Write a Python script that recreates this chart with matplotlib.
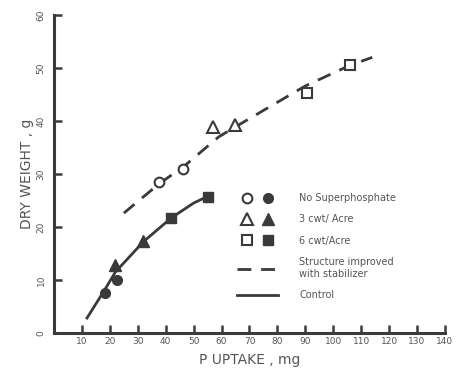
import matplotlib
matplotlib.use("Agg")
import matplotlib.pyplot as plt
from matplotlib.legend_handler import HandlerTuple
from matplotlib.lines import Line2D

# observed points (x = P uptake, mg ; y = dry weight, g)
nosp_open_x = [37.6, 46.2]
nosp_open_y = [28.5, 30.9]
nosp_fill_x = [18.3, 22.6]
nosp_fill_y = [7.5, 10.0]

cwt3_open_x = [57.0, 64.9]
cwt3_open_y = [38.9, 39.2]
cwt3_fill_x = [21.9, 31.9]
cwt3_fill_y = [12.8, 17.4]

cwt6_open_x = [90.7, 106.0]
cwt6_open_y = [45.3, 50.6]
cwt6_fill_x = [41.9, 55.2]
cwt6_fill_y = [21.7, 25.7]

# fitted curves as drawn
stab_x = [25, 38, 46, 59, 66, 77, 90, 106, 114]
stab_y = [22.6, 28.3, 31.2, 37.0, 39.2, 42.6, 46.6, 50.5, 52.0]
ctrl_x = [11.8, 18, 22, 32, 42, 50, 55.2]
ctrl_y = [2.8, 8.0, 11.5, 17.2, 21.7, 24.5, 25.8]

xticks = list(range(10, 141, 10))
yticks = list(range(0, 61, 10))

ink = "#3a3a3a"
txt = "#555555"

fig = plt.figure(figsize=(4.62, 3.74), dpi=100)
ax = fig.add_axes([0.117, 0.110, 0.846, 0.850])

ax.plot(stab_x, stab_y, color=ink, lw=2.0, dashes=(5, 3.5), zorder=2)
ax.plot(ctrl_x, ctrl_y, color=ink, lw=2.0, zorder=2)

ms = 7
open_kw = dict(ls="none", mfc="white", mec=ink, mew=1.5, ms=ms, zorder=3)
fill_kw = dict(ls="none", mfc=ink, mec=ink, mew=1.0, ms=ms, zorder=3)

ax.plot(nosp_open_x, nosp_open_y, marker="o", **open_kw)
ax.plot(nosp_fill_x, nosp_fill_y, marker="o", **fill_kw)
ax.plot(cwt3_open_x, cwt3_open_y, marker="^", **dict(open_kw, ms=ms + 2))
ax.plot(cwt3_fill_x, cwt3_fill_y, marker="^", **dict(fill_kw, ms=ms + 2))
ax.plot(cwt6_open_x, cwt6_open_y, marker="s", **open_kw)
ax.plot(cwt6_fill_x, cwt6_fill_y, marker="s", **fill_kw)

ax.set_xlim(0, 140)
ax.set_ylim(0, 60)
ax.set_xticks(xticks)
ax.set_yticks(yticks)
ax.set_xticklabels([str(t) for t in xticks], fontsize=6.5, color=txt)
ax.set_yticklabels([str(t) for t in yticks], fontsize=6.5, color=txt,
                   rotation=90, va="center")
ax.tick_params(axis="both", direction="in", length=6, width=1.8, colors=ink,
               labelcolor=txt)
ax.tick_params(axis="y", pad=6)
ax.tick_params(axis="x", pad=3)

for s in ["top", "right"]:
    ax.spines[s].set_visible(False)
for s in ["left", "bottom"]:
    ax.spines[s].set_linewidth(2.2)
    ax.spines[s].set_color(ink)

ax.set_xlabel("P UPTAKE , mg", fontsize=10, color=txt, labelpad=5)
ax.set_ylabel("DRY WEIGHT , g", fontsize=10, color=txt, labelpad=2)

# legend
h_o1 = Line2D([], [], marker="o", **open_kw)
h_f1 = Line2D([], [], marker="o", **fill_kw)
h_o2 = Line2D([], [], marker="^", **dict(open_kw, ms=ms + 2))
h_f2 = Line2D([], [], marker="^", **dict(fill_kw, ms=ms + 2))
h_o3 = Line2D([], [], marker="s", **open_kw)
h_f3 = Line2D([], [], marker="s", **fill_kw)
h_dash = Line2D([], [], color=ink, lw=2.0, dashes=(5, 3.5))
h_solid = Line2D([], [], color=ink, lw=2.0)

labels = ["No Superphosphate", "3 cwt/ Acre", "6 cwt/Acre",
          "Structure improved\nwith stabilizer", "Control"]
leg = ax.legend([(h_o1, h_f1), (h_o2, h_f2), (h_o3, h_f3), h_dash, h_solid],
                labels, handler_map={tuple: HandlerTuple(ndivide=None, pad=0.15)},
                loc="upper left", bbox_to_anchor=(0.468, 0.44),
                frameon=False, fontsize=7, handlelength=4.2,
                handletextpad=2.2, labelspacing=1.17, borderaxespad=0,
                borderpad=0)
for t in leg.get_texts():
    t.set_color(txt)

fig.savefig("out.png", dpi=100, facecolor="white")
